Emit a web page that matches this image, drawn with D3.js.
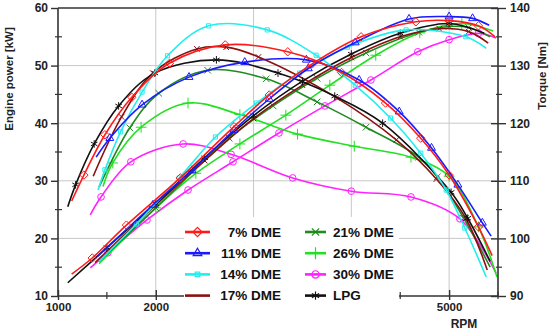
<!DOCTYPE html>
<html><head><meta charset="utf-8">
<script src="https://cdn.jsdelivr.net/npm/d3@7"></script>
<style>
body{margin:0;background:#fff}
svg{display:block}
text{font-family:"Liberation Sans",Arial,sans-serif;font-weight:bold}
</style>
</head><body>
<svg id="c" width="550" height="331"></svg>
<script>
// ---- data ----
const seriesNames = ["7% DME","11% DME","14% DME","17% DME","21% DME","26% DME","30% DME","LPG"];
const xTicks = [1000,2000,3000,4000,5000];
const xTickLabels = [1000,2000,5000];
const powerTicks = [10,20,30,40,50,60];
const torqueTicks = [90,100,110,120,130,140];

const power7 = [[1140,13.8],[1350,16.6],[1700,22.3],[2250,30.5],[2800,39.4],[3160,44.9],[3600,50.3],[4100,55],[4660,57.6],[5000,57.8],[5300,56.9],[5470,55]];
const torque7 = [[1140,106.5],[1265,111],[1480,118],[1755,124.5],[2140,130.4],[2710,133.6],[3350,132.4],[3900,128.8],[4350,123.5],[4710,117.4],[5000,111],[5300,102],[5440,97]];
const power11 = [[1400,16.8],[1970,25.8],[2370,31.8],[2800,38.8],[3160,44.2],[3560,49.5],[4040,54],[4590,58.1],[5000,58.5],[5240,58.2],[5410,57]];
const torque11 = [[1390,114.1],[1530,117.4],[1860,123.2],[2340,128],[2910,130.6],[3540,131],[4080,127.5],[4490,122],[4820,115.7],[5090,109.3],[5340,102.7],[5430,100.4]];
const power14 = [[1420,16],[1800,22.5],[2240,30.5],[2610,37.6],[3030,43.5],[3470,48.7],[3960,53.2],[4560,56.2],[5170,55],[5380,53]];
const torque14 = [[1410,108.4],[1480,111.9],[1640,118.5],[1860,125.4],[2120,131.7],[2540,136.9],[3140,136.2],[3640,131.8],[4040,126.6],[4400,120.9],[4710,114.8],[4970,108.4],[5160,101.8],[5380,93.3]];
const power17 = [[1380,15.8],[2000,25.8],[2500,33.5],[3000,40.8],[3500,46.6],[4000,51.4],[4500,55],[4900,56.4],[5200,55.9],[5400,53.9]];
const torque17 = [[1360,110.8],[1650,121.1],[1970,128.7],[2420,132.9],[2720,133.2],[3050,131.5],[3850,124.4],[4460,117.1],[4870,110.3],[5170,103.5],[5390,94.5]];
const power21 = [[1420,16],[2000,25.3],[2750,37.4],[3200,43],[3650,47.8],[4150,52.2],[4690,55.8],[5000,56.8],[5200,56.6],[5420,55]];
const torque21 = [[1420,108.9],[1735,119.2],[2030,125.2],[2530,129.2],[3130,127.7],[3650,123.7],[4150,119.3],[4690,114.1],[4880,110.7],[5150,103.5],[5420,95]];
const power26 = [[1420,15.6],[2000,25.3],[2410,31.3],[2860,36.4],[3330,41.4],[3780,46.6],[4250,51.8],[4700,55.7],[5130,57.3],[5450,56]];
const torque26 = [[1460,109],[1560,113.1],[1850,119.3],[2330,123.5],[2860,121.5],[3450,118.1],[4030,116],[4610,114.1],[5000,110.8],[5300,102],[5490,93.3]];
const power30 = [[1330,14.9],[1510,17.5],[1910,23.2],[2330,28.4],[2790,33.3],[3260,38.3],[3730,43],[4200,47.5],[4680,52.4],[5000,54.5],[5300,55.6],[5480,54.8]];
const torque30 = [[1330,104.1],[1440,107.2],[1745,113.3],[2280,116.4],[2770,114.6],[3400,110.5],[4000,108.2],[4610,107.2],[5110,103.4],[5480,94]];
const powerLPG = [[1100,12.3],[1500,18.4],[2000,26],[2500,34],[3000,41.3],[3500,47.3],[4000,52],[4500,55.6],[5000,57.3],[5360,55.6]];
const torqueLPG = [[1100,105.5],[1180,109.3],[1370,116.4],[1620,123],[1990,128.7],[2620,131],[3250,128.7],[3830,124.7],[4320,120],[5020,108],[5190,103.5],[5420,96]];

const powerData = [power7,power11,power14,power17,power21,power26,power30,powerLPG];
const torqueData = [torque7,torque11,torque14,torque17,torque21,torque26,torque30,torqueLPG];

// ---- styles ----
const colors = ["#ff1a1a","#1a1aff","#22eeee","#8b1010","#1f8a1f","#22e022","#ff22ff","#111111"];
const symbols = [d3.symbolDiamond2,d3.symbolTriangle2,d3.symbolSquare2,d3.symbolTimes,d3.symbolTimes,d3.symbolPlus,d3.symbolCircle,d3.symbolAsterisk];
const symSize = [45,45,22,22,30,40,35,40];
const legendMarker = [true,true,true,false,true,true,true,true];
const drawOrder = [6,5,4,3,7,2,1,0];

const svg = d3.select("#c");
const L=58,R=498,T=8,B=296;
const x = d3.scaleLinear().domain([1000,5500]).range([L,R]);
const yP = d3.scaleLinear().domain([10,60]).range([B,T]);
const yT = d3.scaleLinear().domain([90,140]).range([B,T]);

// grid
const g = svg.append("g");
g.selectAll(".vg").data(xTicks.slice(1)).enter().append("line")
  .attr("x1",d=>x(d)).attr("x2",d=>x(d)).attr("y1",T).attr("y2",B)
  .attr("stroke","#c8c8c8").attr("stroke-width",1);
g.selectAll(".hg").data(powerTicks.slice(1,-1)).enter().append("line")
  .attr("x1",L).attr("x2",R).attr("y1",d=>yP(d)).attr("y2",d=>yP(d))
  .attr("stroke","#c8c8c8").attr("stroke-width",1);

// clip
svg.append("clipPath").attr("id","clip").append("rect").attr("x",L).attr("y",T).attr("width",R-L).attr("height",B-T);

const curves = svg.append("g").attr("clip-path","url(#clip)");
const lineP = d3.line().x(d=>x(d[0])).y(d=>yP(d[1])).curve(d3.curveCatmullRom.alpha(0.5));
const lineT = d3.line().x(d=>x(d[0])).y(d=>yT(d[1])).curve(d3.curveCatmullRom.alpha(0.5));

drawOrder.forEach(i=>{
  [[powerData[i],lineP,yP],[torqueData[i],lineT,yT]].forEach(([data,ln,ys])=>{
    curves.append("path").attr("d",ln(data)).attr("fill","none")
      .attr("stroke",colors[i]).attr("stroke-width",1.6);
    const sym = d3.symbol().type(symbols[i]).size(symSize[i]);
    curves.selectAll(null).data(data.slice(1,-1)).enter().append("path")
      .attr("d",sym).attr("transform",d=>`translate(${x(d[0])},${ys(d[1])})`)
      .attr("fill","none").attr("stroke",colors[i]).attr("stroke-width",1);
  });
});

// axes frame
const ax = svg.append("g").attr("stroke","#333").attr("stroke-width",1.6);
ax.append("line").attr("x1",L).attr("x2",R).attr("y1",T).attr("y2",T);
ax.append("line").attr("x1",L).attr("x2",L).attr("y1",T).attr("y2",B);
ax.append("line").attr("x1",R).attr("x2",R).attr("y1",T).attr("y2",B);
ax.append("line").attr("x1",L).attr("x2",R).attr("y1",B).attr("y2",B);

// left axis
const la = svg.append("g").attr("transform",`translate(${L},0)`)
  .call(d3.axisLeft(yP).tickValues(powerTicks).tickSize(7).tickFormat(d3.format("d")));
la.select(".domain").remove();
la.selectAll("line").attr("stroke","#333").attr("stroke-width",1.4);
la.selectAll("text").attr("font-size",12).attr("fill","#222").attr("x",-10).attr("font-weight","bold");
svg.append("g").selectAll("line").data(d3.range(15,60,10)).enter().append("line")
  .attr("x1",L-3).attr("x2",L+4).attr("y1",d=>yP(d)).attr("y2",d=>yP(d))
  .attr("stroke","#333").attr("stroke-width",1.2);

// right axis
const ra = svg.append("g").attr("transform",`translate(${R},0)`)
  .call(d3.axisRight(yT).tickValues(torqueTicks).tickSize(8).tickFormat(d3.format("d")));
ra.select(".domain").remove();
ra.selectAll("line").attr("stroke","#333").attr("stroke-width",1.4).attr("x1",-7);
ra.selectAll("text").attr("font-size",12).attr("fill","#222").attr("x",12).attr("font-weight","bold");
svg.append("g").selectAll("line").data(d3.range(95,140,10)).enter().append("line")
  .attr("x1",R-2).attr("x2",R+4).attr("y1",d=>yT(d)).attr("y2",d=>yT(d))
  .attr("stroke","#333").attr("stroke-width",1.2);

// bottom axis
const ba = svg.append("g").attr("transform",`translate(0,${B})`)
  .call(d3.axisBottom(x).tickValues(xTicks).tickSize(4)
    .tickFormat(d=>xTickLabels.includes(d)?d3.format("d")(d):""));
ba.select(".domain").remove();
ba.selectAll("line").attr("stroke","#333").attr("stroke-width",1.4).attr("y1",-6);
ba.selectAll("text").attr("font-size",11.5).attr("fill","#222").attr("y",7).attr("font-weight","bold");
svg.append("g").selectAll("line").data(d3.range(1500,5600,1000)).enter().append("line")
  .attr("x1",d=>x(d)).attr("x2",d=>x(d)).attr("y1",B-4).attr("y2",B+3)
  .attr("stroke","#333").attr("stroke-width",1.2);

// titles
svg.append("text").attr("transform","translate(13,79) rotate(-90)").attr("text-anchor","middle")
  .attr("font-size",11.5).attr("fill","#222").text("Engine power [kW]");
svg.append("text").attr("transform","translate(546,76) rotate(-90)").attr("text-anchor","middle")
  .attr("font-size",11.5).attr("fill","#222").text("Torque [Nm]");
svg.append("text").attr("x",464).attr("y",328).attr("text-anchor","middle")
  .attr("font-size",12).attr("fill","#222").text("RPM");

// legend
const lg = svg.append("g");
lg.append("rect").attr("x",184).attr("y",217).attr("width",215).attr("height",110).attr("fill","#fff");
seriesNames.forEach((name,i)=>{
  const col = Math.floor(i/4), row = i%4;
  const cy = 232 + row*21.2;
  const x0 = col===0 ? 185 : 305, x1 = col===0 ? 210 : 326;
  lg.append("line").attr("x1",x0).attr("x2",x1).attr("y1",cy).attr("y2",cy)
    .attr("stroke",colors[i]).attr("stroke-width",2.6);
  if(legendMarker[i]){
    lg.append("path").attr("d",d3.symbol().type(symbols[i]).size(symSize[i]*1.2)())
      .attr("transform",`translate(${(x0+x1)/2},${cy})`)
      .attr("fill","none").attr("stroke",colors[i]).attr("stroke-width",1.2);
  }
  const t = lg.append("text").attr("y",cy+4.7).attr("font-size",13.5).attr("fill","#111").text(name);
  if(col===0) t.attr("x",281).attr("text-anchor","end");
  else t.attr("x",333).attr("text-anchor","start");
});
</script>
</body></html>
